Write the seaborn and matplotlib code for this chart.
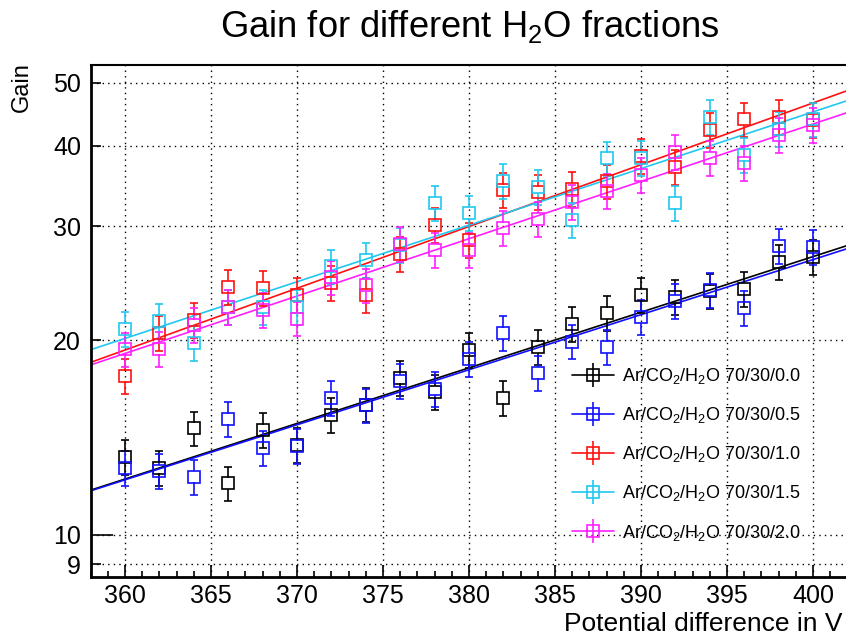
import numpy as np
import matplotlib
matplotlib.use("Agg")
import matplotlib.pyplot as plt
import seaborn as sns
from matplotlib.ticker import MultipleLocator, FixedLocator, NullLocator, FixedFormatter
from matplotlib.lines import Line2D
from matplotlib.legend_handler import HandlerTuple

# ---------------- data ----------------
voltage = [360, 362, 364, 366, 368, 370, 372, 374, 376, 378, 380,
           382, 384, 386, 388, 390, 392, 394, 396, 398, 400]
gain_00 = [13.2, 12.7, 14.6, 12.0, 14.5, 13.75, 15.3, 15.9, 17.5, 16.65, 19.3,
           16.3, 19.5, 21.2, 22.0, 23.5, 23.3, 23.8, 24.0, 26.4, 26.9]
gain_05 = [12.7, 12.55, 12.3, 15.1, 13.6, 13.7, 16.3, 15.85, 17.3, 16.8, 18.7,
           20.5, 17.8, 19.9, 19.5, 21.7, 23.0, 23.9, 22.4, 28.0, 27.9]
gain_10 = [17.6, 20.5, 21.5, 24.2, 24.1, 23.5, 24.5, 23.5, 27.2, 30.1, 28.6,
           34.1, 33.9, 34.3, 35.2, 38.6, 37.1, 42.3, 43.9, 44.3, 43.8]
gain_15 = [20.8, 21.4, 19.8, 22.5, 22.5, 22.5, 26.0, 26.6, 28.1, 32.6, 31.5,
           35.3, 34.5, 30.7, 38.2, 38.3, 32.6, 44.3, 38.7, 42.4, 43.9]
gain_20 = [19.35, 19.4, 21.1, 22.5, 22.3, 21.6, 25.0, 24.3, 28.2, 27.6, 27.6,
           29.8, 30.8, 32.7, 34.0, 36.0, 39.1, 38.3, 37.6, 41.5, 43.0]
rel_err = 0.062
labels = ["Ar/CO$_2$/H$_2$O 70/30/0.0", "Ar/CO$_2$/H$_2$O 70/30/0.5",
          "Ar/CO$_2$/H$_2$O 70/30/1.0", "Ar/CO$_2$/H$_2$O 70/30/1.5",
          "Ar/CO$_2$/H$_2$O 70/30/2.0"]
colors = ["#000000", "#1010ff", "#ff1010", "#20c8f0", "#ff20ff"]
y_ticks = [9, 10, 20, 30, 40, 50]
y_tick_labels = ["9", "10", "20", "30", "40", "50"]

# ---------------- style ----------------
sns.set_style("white")
plt.rcParams['font.family'] = ['Liberation Sans', 'DejaVu Sans']
plt.rcParams['mathtext.fontset'] = 'custom'
plt.rcParams['mathtext.rm'] = 'Liberation Sans'
plt.rcParams['mathtext.it'] = 'Liberation Sans:italic'
plt.rcParams['mathtext.default'] = 'regular'
plt.rcParams['text.color'] = 'black'
plt.rcParams['xtick.color'] = 'black'
plt.rcParams['ytick.color'] = 'black'
plt.rcParams['xtick.labelcolor'] = 'black'
plt.rcParams['ytick.labelcolor'] = 'black'

W, H = 846, 639
fig = plt.figure(figsize=(W / 100, H / 100), dpi=100)
ax = fig.add_axes([90.6 / W, 1 - 577 / H, 756.8 / W, 512 / H])
ax.set_yscale('log')
ax.set_xlim(358, 402)
ax.set_ylim(8.6, 53.3)

series = [gain_00, gain_05, gain_10, gain_15, gain_20]
x = np.asarray(voltage, dtype=float)
xf = np.linspace(358, 402, 200)
k = 10 ** (5.5 / 647)  # half-marker gap in log space
handles = []
for y, c, lab in zip(series, colors, labels):
    y = np.asarray(y, dtype=float)
    up, lo = y * (1 + rel_err), y * (1 - rel_err)
    ax.vlines(x, y * k, up, color=c, lw=1.2, zorder=3)
    ax.vlines(x, lo, y / k, color=c, lw=1.2, zorder=3)
    ax.plot(x, up, '_', color=c, ms=6, mew=1.2, zorder=3)
    ax.plot(x, lo, '_', color=c, ms=6, mew=1.2, zorder=3)
    ax.plot(x, y, 's', mfc='none', mec=c, ms=8, mew=1.2, zorder=4)
    p = np.polyfit(x, np.log(y), 1)
    sns.lineplot(x=xf, y=np.exp(np.polyval(p, xf)), color=c, lw=1.2, ax=ax, zorder=2)
    h = (Line2D([0], [0], color=c, lw=1.2, marker='s', mfc='none', mec=c, ms=8, mew=1.2),
         Line2D([0], [0], color=c, marker='|', ms=17, mew=1.2, ls='none'))
    handles.append(h)

leg = ax.legend(handles, labels, loc='upper left',
                bbox_to_anchor=(572 / W, 1 - 366 / H), bbox_transform=fig.transFigure,
                frameon=False, fontsize=13, handlelength=2.3, handletextpad=0.45,
                labelspacing=1.06, borderpad=0, borderaxespad=0,
                handler_map={tuple: HandlerTuple(ndivide=1)})

# ---------------- axes ----------------
ax.xaxis.set_major_locator(MultipleLocator(5))
ax.xaxis.set_minor_locator(MultipleLocator(1))
ax.yaxis.set_major_locator(FixedLocator(y_ticks))
ax.yaxis.set_major_formatter(FixedFormatter(y_tick_labels))
ax.yaxis.set_minor_locator(NullLocator())
ax.tick_params(axis='x', which='major', direction='in', length=8.5, width=1.2,
               labelsize=18, pad=5, bottom=True, top=False, color='black')
ax.tick_params(axis='x', which='minor', direction='in', length=4.5, width=1.2,
               bottom=True, top=False, color='black')
ax.tick_params(axis='y', which='major', direction='in', width=1.2, labelsize=18,
               pad=7, left=True, right=False, color='black')
for t, v in zip(ax.yaxis.get_major_ticks(), y_ticks):
    t.tick1line.set_markersize(15.5 if v == 10 else 7.5)

ax.grid(True, which='major', color='black', lw=1.0, linestyle=(0, (1, 3)))
ax.set_axisbelow(True)
for s in ['left', 'bottom']:
    ax.spines[s].set_linewidth(2)
    ax.spines[s].set_color('black')
ax.spines['top'].set_linewidth(1.5)
ax.spines['top'].set_color('black')
ax.spines['right'].set_visible(False)
ax.set_xlabel('')
ax.set_ylabel('')

fig.text(470 / W, 1 - 37 / H, 'Gain for different H$_2$O fractions',
         ha='center', va='baseline', fontsize=26.2)
fig.text(842 / W, 1 - 631 / H, 'Potential difference in V',
         ha='right', va='baseline', fontsize=19)
fig.text(22 / W, 1 - 62 / H, 'Gain', rotation=90, ha='center', va='top', fontsize=17)

fig.savefig('out.png', dpi=100)
